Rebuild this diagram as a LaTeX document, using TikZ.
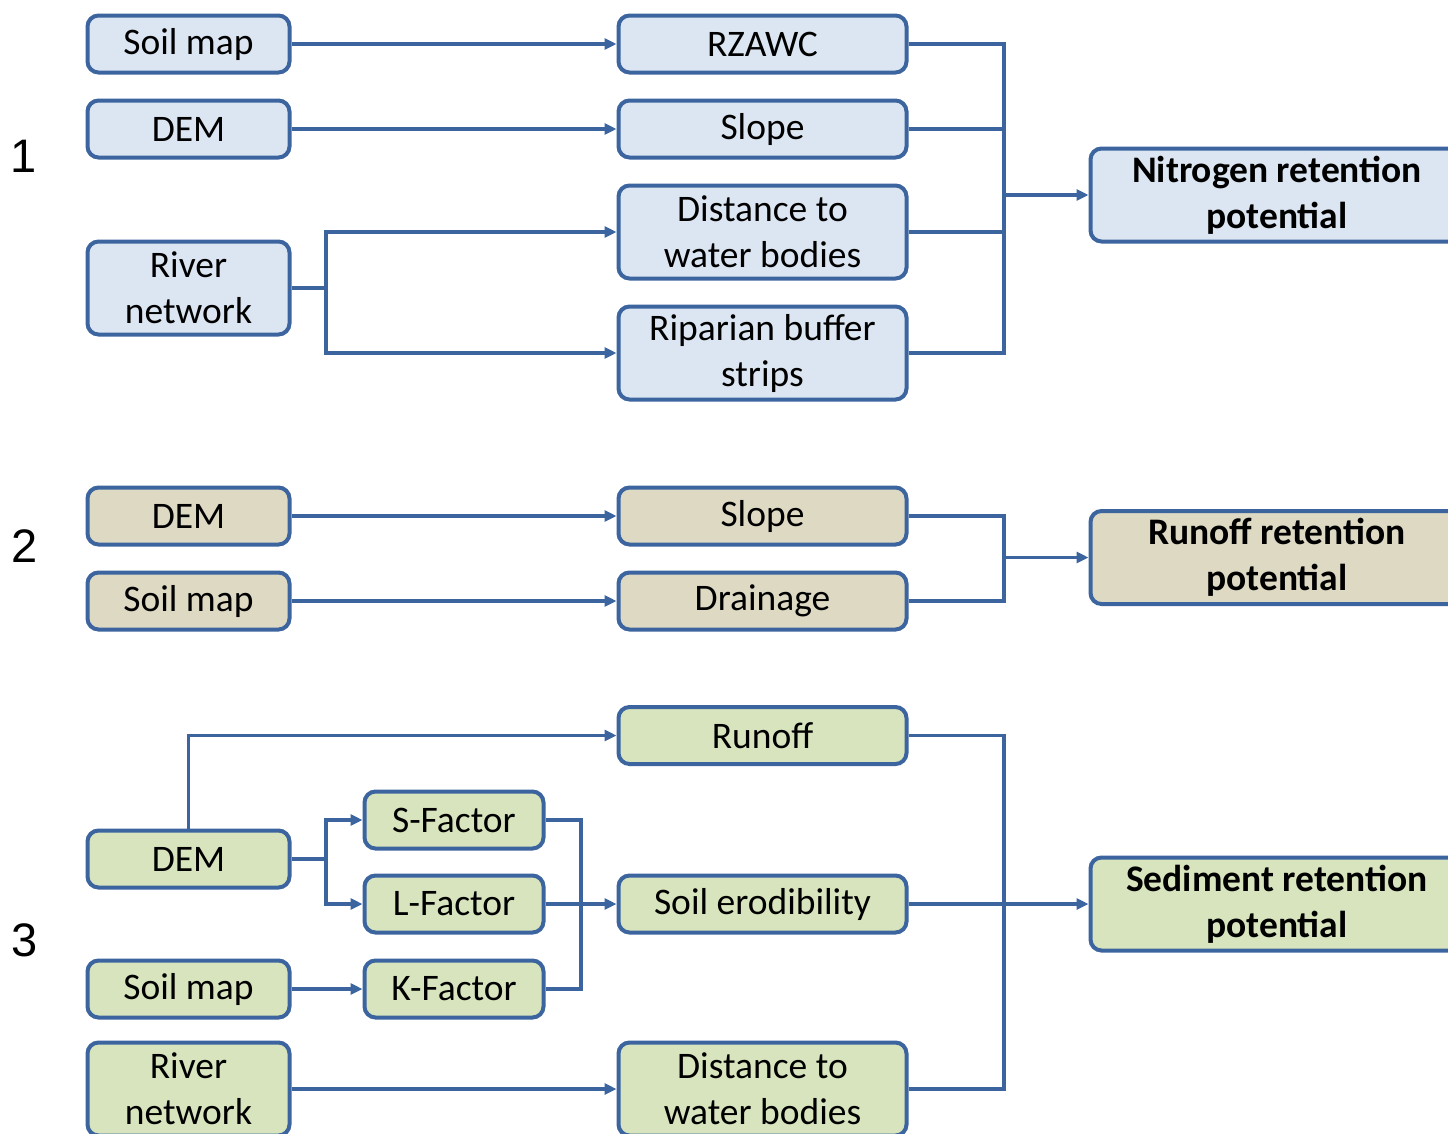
\documentclass[tikz,border=0pt]{standalone}
\usepackage{fontspec}
\setmainfont{Carlito}
\newfontfamily\numfont{Liberation Sans}
\usetikzlibrary{arrows.meta}
\definecolor{ln}{HTML}{3C65A0}
\definecolor{fb}{HTML}{DCE6F2}
\definecolor{ft}{HTML}{DDD9C3}
\definecolor{fg}{HTML}{D7E4BD}
\tikzset{
  box/.style={draw=ln, line width=4pt, rounded corners=11pt, minimum height=57pt,
    inner sep=0pt, align=center, font=\fontsize{37.5}{46}\selectfont},
  tall/.style={minimum height=93pt},
  cola/.style={box, minimum width=202pt},
  colb/.style={box, minimum width=288pt},
  colf/.style={box, minimum width=179pt},
  colr/.style={box, tall, minimum width=373pt, font=\fontsize{37.5}{46}\selectfont\bfseries},
  conn/.style={draw=ln, line width=3.5pt},
  arr/.style={conn, -{Triangle[length=12pt,width=11pt]}},
  num/.style={font=\fontsize{47}{50}\selectfont\numfont, inner sep=0pt}
}
\begin{document}
\begin{tikzpicture}[x=1pt, y=-1pt]
\useasboundingbox (0,0) rectangle (1448,1133);
\fill[white] (0,0) rectangle (1448,1133);
\begin{scope}
\clip (0,0) rectangle (1448,1133);
% numbers
\node[num] (n1) at (24,156) {1};
\node[num] (n2) at (25,546) {2};
\node[num] (n3) at (25,940) {3};

% Section 1
\node[cola, fill=fb] (sm1) at (188.5,44) {Soil map};
\node[cola, fill=fb] (dem1) at (188.5,129) {DEM};
\node[cola, tall, fill=fb] (rn1) at (188.5,288) {River\\network};
\node[colb, fill=fb] (rz) at (762.5,44) {RZAWC};
\node[colb, fill=fb] (sl1) at (762.5,129) {Slope};
\node[colb, tall, fill=fb] (dw1) at (762.5,232) {Distance to\\water bodies};
\node[colb, tall, fill=fb] (rb1) at (762.5,353) {Riparian buffer\\strips};
\node[colr, fill=fb] (nit) at (1277,195) {Nitrogen retention\\potential};
\coordinate (j1) at (1004,195);
\draw[arr] (sm1.east) -- (rz.west);
\draw[arr] (dem1.east) -- (sl1.west);
\coordinate (s1) at (326,288);
\draw[conn] (rn1.east) -- (s1);
\draw[arr] (s1) |- (dw1.west);
\draw[arr] (s1) |- (rb1.west);
\draw[conn] (rz.east) -| (j1);
\draw[conn] (rb1.east) -| (j1);
\draw[conn] (sl1.east) -- (sl1.east -| j1);
\draw[conn] (dw1.east) -- (dw1.east -| j1);
\draw[arr] (j1) -- (nit.west);

% Section 2
\node[cola, fill=ft] (dem2) at (188.5,516) {DEM};
\node[cola, fill=ft] (sm2) at (188.5,601) {Soil map};
\node[colb, fill=ft] (sl2) at (762.5,516) {Slope};
\node[colb, fill=ft] (dr2) at (762.5,601) {Drainage};
\node[colr, fill=ft] (run2) at (1277,557.5) {Runoff retention\\potential};
\coordinate (j2) at (1004,557.5);
\draw[arr] (dem2.east) -- (sl2.west);
\draw[arr] (sm2.east) -- (dr2.west);
\draw[conn] (sl2.east) -| (j2);
\draw[conn] (dr2.east) -| (j2);
\draw[arr] (j2) -- (run2.west);

% Section 3
\node[colb, fill=fg] (ro3) at (762.5,735.5) {Runoff};
\node[cola, fill=fg] (dem3) at (188.5,859) {DEM};
\node[colf, fill=fg] (sf) at (454,820) {S-Factor};
\node[colf, fill=fg] (lf) at (454,904) {L-Factor};
\node[colf, fill=fg] (kf) at (454,989) {K-Factor};
\node[cola, fill=fg] (sm3) at (188.5,989) {Soil map};
\node[cola, tall, fill=fg] (rn3) at (188.5,1089) {River\\network};
\node[colb, fill=fg] (se3) at (762.5,904) {Soil erodibility};
\node[colb, tall, fill=fg] (dw3) at (762.5,1089) {Distance to\\water bodies};
\node[colr, fill=fg] (sed) at (1277,904) {Sediment retention\\potential};
\draw[arr] (dem3.north) |- (ro3.west);
\coordinate (s3) at (326,859);
\draw[conn] (dem3.east) -- (s3);
\draw[arr] (s3) |- (sf.west);
\draw[arr] (s3) |- (lf.west);
\draw[arr] (sm3.east) -- (kf.west);
\coordinate (k3) at (581,904);
\draw[conn] (sf.east) -| (k3);
\draw[conn] (kf.east) -| (k3);
\draw[arr] (lf.east) -- (se3.west);
\draw[arr] (rn3.east) -- (dw3.west);
\coordinate (j3) at (1004,904);
\draw[conn] (ro3.east) -| (j3);
\draw[conn] (dw3.east) -| (j3);
\draw[arr] (se3.east) -- (sed.west);
\end{scope}
\end{tikzpicture}
\end{document}
